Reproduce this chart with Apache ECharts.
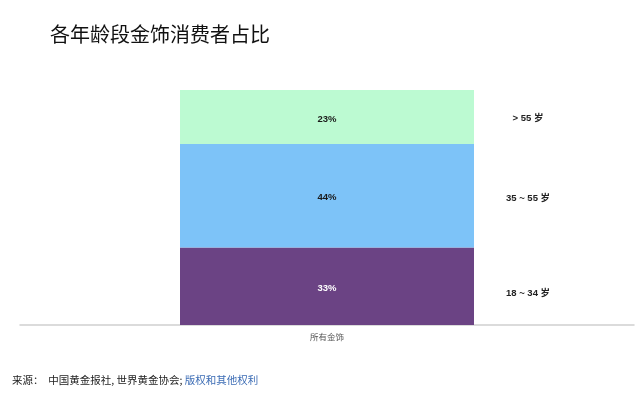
<!DOCTYPE html>
<html>
<head>
<meta charset="utf-8">
<script src="https://cdn.jsdelivr.net/npm/echarts@6/dist/echarts.min.js"></script>
<style>
html, body { margin: 0; padding: 0; background: #fff; }
#main { width: 640px; height: 409px; }
</style>
</head>
<body>
<div id="main"></div>
<script>
let chartDom = document.getElementById('main');
let myChart = echarts.init(chartDom);

// data
let categories = ['所有金饰'];
let groups = ['18 ~ 34 岁', '35 ~ 55 岁', '> 55 岁'];
let shares = [33, 44, 23];
let colors = ['#6b4384', '#7dc3f8', '#bcfad2'];
let textColors = ['#ffffff', '#1a1a1a', '#1a1a1a'];
let sideOffsetY = [7, 3, 1];

let font = '"Liberation Sans", "Noto Sans CJK SC", sans-serif';

let series = [];
let base = 0;
for (let i = 0; i < groups.length; i++) {
	let mid = base + shares[i] / 2;
	base += shares[i];
	series.push({
		name: groups[i],
		type: 'bar',
		stack: 'all',
		barWidth: 294,
		data: [shares[i]],
		itemStyle: { color: colors[i] },
		label: {
			show: true,
			position: 'inside',
			offset: [0, 2],
			formatter: '{c}%',
			color: textColors[i],
			fontSize: 9.5,
			fontWeight: 'bold',
			fontFamily: font
		},
		markPoint: {
			symbol: 'rect',
			symbolSize: 1,
			itemStyle: { color: 'rgba(0,0,0,0)' },
			data: [{ coord: [categories[0], mid], value: groups[i] }],
			label: {
				show: true,
				position: 'inside',
				offset: [201, sideOffsetY[i]],
				formatter: groups[i],
				color: '#222',
				fontSize: 9.5,
				fontWeight: 'bold',
				fontFamily: font
			}
		}
	});
}

let option = {
	animation: false,
	title: [{
		text: '各年龄段金饰消费者占比',
		left: 45,
		top: 19,
		textStyle: {
			fontSize: 20,
			fontWeight: 'normal',
			color: '#111',
			fontFamily: '"Noto Sans CJK SC", sans-serif'
		}
	}, {
		text: '{a|来源：  中国黄金报社, 世界黄金协会; }{b|版权和其他权利}',
		left: 7,
		top: 370,
		textStyle: {
			fontWeight: 'normal',
			rich: {
				a: { fontSize: 10.5, fontWeight: 'normal', color: '#222', fontFamily: '"Noto Sans CJK SC", sans-serif' },
				b: { fontSize: 10.5, fontWeight: 'normal', color: '#3d6db5', fontFamily: '"Noto Sans CJK SC", sans-serif' }
			}
		}
	}],
	grid: {
		left: 20,
		right: 6,
		top: 90,
		bottom: 84,
		containLabel: false
	},
	xAxis: {
		type: 'category',
		data: categories,
		axisLine: { lineStyle: { color: '#d0d0d0', width: 1.5 } },
		axisTick: { show: false },
		axisLabel: {
			color: '#555',
			fontSize: 8.5,
			margin: 8,
			fontFamily: '"Noto Sans CJK SC", sans-serif'
		}
	},
	yAxis: {
		type: 'value',
		min: 0,
		max: 100,
		show: false
	},
	series: series
};

myChart.setOption(option);
</script>
</body>
</html>
